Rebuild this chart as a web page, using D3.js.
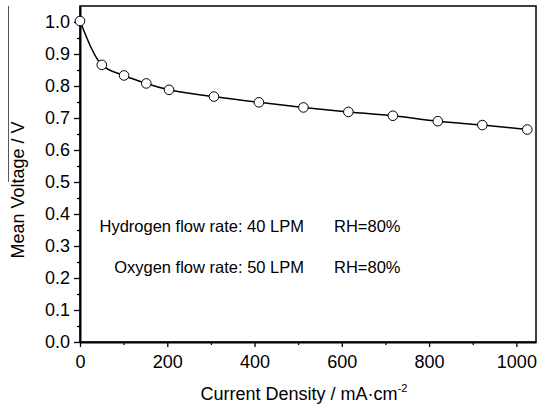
<!DOCTYPE html>
<html>
<head>
<meta charset="utf-8">
<script src="https://cdn.jsdelivr.net/npm/d3@7"></script>
<style>
  body { margin: 0; background: #fff; }
  text { font-family: "Liberation Sans", Arial, sans-serif; fill: #000; }
</style>
</head>
<body>
<div id="chart"></div>
<script>
// data
const currentDensity = [0, 50, 101, 152, 204, 307, 410, 512, 615, 717, 820, 922, 1025];
const meanVoltage = [1.003, 0.866, 0.833, 0.808, 0.788, 0.767, 0.749, 0.733, 0.719, 0.707, 0.690, 0.678, 0.664];
const xTicks = [0, 200, 400, 600, 800, 1000];
const xMinor = [100, 300, 500, 700, 900];
const yTicks = [0, 0.1, 0.2, 0.3, 0.4, 0.5, 0.6, 0.7, 0.8, 0.9, 1.0];
const yMinor = [0.05, 0.15, 0.25, 0.35, 0.45, 0.55, 0.65, 0.75, 0.85, 0.95];
const notes = [
  ["Hydrogen flow rate: 40 LPM", "RH=80%"],
  ["Oxygen flow rate: 50 LPM", "RH=80%"]
];

const W = 539, H = 407;
const margin = { top: 6, right: 3, bottom: 65, left: 80 };
const width = W - margin.left - margin.right,
      height = H - margin.top - margin.bottom;

const svg = d3.select("#chart").append("svg")
    .attr("width", W)
    .attr("height", H);

// stray scan line at the far left of the original
svg.append("line")
    .attr("x1", 8.5).attr("x2", 8.5)
    .attr("y1", 6).attr("y2", 182)
    .attr("stroke", "#555")
    .attr("stroke-width", 1);

const g = svg.append("g")
    .attr("transform", `translate(${margin.left},${margin.top})`);

const x = d3.scaleLinear().domain([0, 1045]).range([0, width]);
const y = d3.scaleLinear().domain([0, 1.05]).range([height, 0]);

// frame (top and right)
g.append("rect")
    .attr("x", 0).attr("y", 0)
    .attr("width", width).attr("height", height)
    .attr("fill", "none")
    .attr("stroke", "#000")
    .attr("stroke-width", 1.5);

// minor ticks
g.append("g")
    .attr("transform", `translate(0,${height})`)
    .call(d3.axisBottom(x).tickValues(xMinor).tickSize(3).tickFormat(""))
    .call(a => a.select(".domain").remove());
g.append("g")
    .call(d3.axisLeft(y).tickValues(yMinor).tickSize(3).tickFormat(""))
    .call(a => a.select(".domain").remove());

// X axis
const xAxis = g.append("g")
    .attr("transform", `translate(0,${height})`)
    .call(d3.axisBottom(x).tickValues(xTicks).tickSize(5).tickPadding(8)
      .tickFormat(d3.format("d")).tickSizeOuter(0));
xAxis.selectAll("text").style("font-size", "18px").attr("font-family", null);
xAxis.select(".domain").attr("stroke-width", 2);

// Y axis
const yAxis = g.append("g")
    .call(d3.axisLeft(y).tickValues(yTicks).tickSize(6).tickPadding(4)
      .tickFormat(d3.format(".1f")).tickSizeOuter(0));
yAxis.selectAll("text").style("font-size", "18px").attr("font-family", null);
yAxis.select(".domain").attr("stroke-width", 2);

g.selectAll(".tick line").attr("stroke-width", 1.3);

// axis titles
const xt = svg.append("text")
    .attr("x", 304)
    .attr("y", 400)
    .attr("text-anchor", "middle")
    .style("font-size", "18px");
xt.append("tspan").text("Current Density / mA\u00B7cm");
xt.append("tspan").attr("dy", -8).style("font-size", "11px").text("-2");

svg.append("text")
    .attr("transform", "translate(24,190) rotate(-90)")
    .attr("text-anchor", "middle")
    .style("font-size", "18px")
    .text("Mean Voltage / V");

// curve
const line = d3.line()
    .x((d, i) => x(currentDensity[i]))
    .y(d => y(d))
    .curve(d3.curveMonotoneX);

g.append("path")
    .datum(meanVoltage)
    .attr("fill", "none")
    .attr("stroke", "#000")
    .attr("stroke-width", 1.5)
    .attr("d", line);

g.selectAll(".dot")
    .data(meanVoltage)
    .enter().append("circle")
    .attr("class", "dot")
    .attr("cx", (d, i) => x(currentDensity[i]))
    .attr("cy", d => y(d))
    .attr("r", 4.8)
    .attr("fill", "#fff")
    .attr("stroke", "#000")
    .attr("stroke-width", 1);

// annotations
notes.forEach((n, i) => {
  svg.append("text")
      .attr("x", 304)
      .attr("y", 232 + i * 41)
      .attr("text-anchor", "end")
      .style("font-size", "16.5px")
      .text(n[0]);
  svg.append("text")
      .attr("x", 334)
      .attr("y", 232 + i * 41)
      .style("font-size", "16.5px")
      .text(n[1]);
});
</script>
</body>
</html>
